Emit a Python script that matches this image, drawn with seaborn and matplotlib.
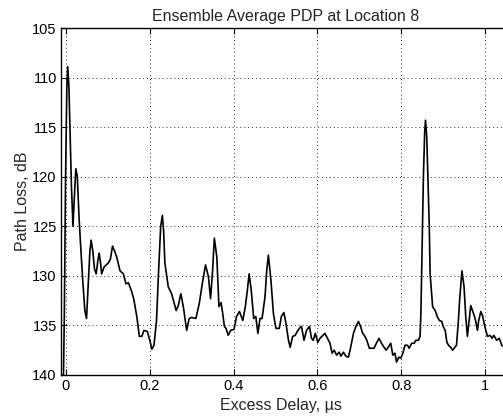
import matplotlib
matplotlib.use("Agg")
import matplotlib.pyplot as plt
import seaborn as sns
import pandas as pd
from matplotlib.ticker import FuncFormatter

delay_us = [-0.006, -0.004, -0.001, 0.002, 0.004, 0.007, 0.010, 0.013, 0.0167, 0.020,
            0.0235, 0.027, 0.031, 0.035, 0.040, 0.045, 0.049, 0.053, 0.057, 0.060,
            0.064, 0.068, 0.072, 0.076, 0.079, 0.082, 0.085, 0.091, 0.101, 0.106,
            0.111, 0.116, 0.121, 0.129, 0.137, 0.143, 0.149, 0.157, 0.162, 0.169,
            0.175, 0.181, 0.186, 0.194, 0.200, 0.205, 0.210, 0.216, 0.221, 0.226,
            0.230, 0.233, 0.236, 0.244, 0.252, 0.263, 0.268, 0.274, 0.280, 0.288,
            0.294, 0.300, 0.310, 0.318, 0.326, 0.333, 0.340, 0.345, 0.350, 0.354,
            0.360, 0.365, 0.370, 0.374, 0.378, 0.382, 0.387, 0.393, 0.401, 0.407,
            0.414, 0.422, 0.428, 0.433, 0.437, 0.442, 0.448, 0.453, 0.458, 0.463,
            0.468, 0.475, 0.479, 0.483, 0.489, 0.495, 0.501, 0.509, 0.514, 0.520,
            0.525, 0.531, 0.535, 0.541, 0.547, 0.552, 0.557, 0.562, 0.568, 0.574,
            0.581, 0.586, 0.590, 0.595, 0.601, 0.606, 0.613, 0.618, 0.624, 0.630,
            0.635, 0.640, 0.646, 0.652, 0.656, 0.662, 0.668, 0.674, 0.679, 0.686,
            0.692, 0.698, 0.703, 0.708, 0.712, 0.718, 0.724, 0.730, 0.735, 0.742,
            0.747, 0.753, 0.759, 0.764, 0.769, 0.775, 0.780, 0.785, 0.789, 0.794,
            0.799, 0.804, 0.809, 0.815, 0.819, 0.825, 0.831, 0.835, 0.841, 0.845,
            0.847, 0.850, 0.853, 0.856, 0.858, 0.861, 0.864, 0.867, 0.869, 0.875,
            0.881, 0.886, 0.891, 0.897, 0.900, 0.905, 0.909, 0.913, 0.918, 0.923,
            0.928, 0.932, 0.936, 0.940, 0.945, 0.950, 0.954, 0.958, 0.962, 0.966,
            0.971, 0.975, 0.978, 0.982, 0.985, 0.990, 0.994, 0.998, 1.002, 1.006,
            1.012, 1.017, 1.021, 1.028, 1.034, 1.040, 1.050]

path_loss_db = [140.0, 134.0, 120.0, 111.0, 108.9, 111.0, 116.0, 121.0, 125.0, 122.0,
                119.2, 120.0, 124.0, 127.0, 130.5, 133.5, 134.3, 131.0, 127.5, 126.4,
                127.5, 129.3, 129.8, 128.5, 127.7, 128.5, 129.8, 129.1, 128.7, 128.3,
                127.0, 127.5, 128.1, 129.5, 129.8, 130.8, 130.7, 131.6, 132.4, 134.1,
                136.1, 136.1, 135.5, 135.6, 136.5, 137.4, 137.0, 134.5, 129.5, 125.0,
                123.9, 125.5, 128.7, 131.1, 131.8, 133.5, 133.0, 131.8, 133.1, 135.5,
                134.3, 134.2, 134.3, 132.8, 130.6, 128.9, 130.1, 132.3, 129.4, 126.2,
                128.1, 133.1, 132.7, 133.8, 135.1, 135.3, 136.0, 135.5, 135.4, 134.1,
                133.6, 134.5, 133.1, 131.4, 129.8, 131.4, 134.3, 134.1, 135.8, 134.3,
                134.3, 132.1, 129.5, 127.9, 130.4, 133.8, 135.3, 135.3, 134.1, 133.7,
                134.8, 136.5, 137.2, 136.1, 136.0, 135.6, 135.3, 135.1, 136.5, 135.5,
                135.1, 136.3, 136.5, 135.8, 136.7, 136.3, 136.0, 135.8, 136.3, 136.8,
                137.8, 137.5, 138.0, 137.7, 138.1, 137.7, 138.1, 138.2, 137.3, 135.8,
                135.1, 134.6, 135.1, 135.8, 136.0, 136.5, 137.3, 137.3, 137.3, 136.7,
                136.3, 136.8, 137.2, 137.5, 137.2, 136.8, 138.0, 137.8, 138.7, 138.2,
                138.3, 137.8, 137.0, 137.0, 137.3, 136.8, 136.8, 136.5, 136.5, 136.1,
                133.8, 127.0, 120.0, 115.5, 114.3, 116.0, 120.5, 125.0, 129.8, 133.1,
                133.5, 134.1, 134.5, 134.6, 135.1, 135.5, 136.7, 137.0, 137.2, 137.5,
                137.2, 137.0, 134.8, 132.1, 129.5, 131.1, 134.1, 136.1, 134.5, 133.0,
                133.6, 134.1, 134.6, 135.5, 134.5, 133.6, 134.0, 134.8, 135.5, 136.1,
                136.0, 136.3, 136.0, 136.5, 136.3, 137.0, 137.3]

x_ticks = [0, 0.2, 0.4, 0.6, 0.8, 1.0]
y_ticks = [105, 110, 115, 120, 125, 130, 135, 140]

sns.set_style("ticks")
plt.rcParams["font.family"] = ["Liberation Sans", "DejaVu Sans"]

df = pd.DataFrame({"delay": delay_us, "loss": path_loss_db})

W, H = 503, 417
fig = plt.figure(figsize=(W / 100, H / 100), dpi=100)
left_px, right_px, top_px, bottom_px = 61, 510, 28, 375
ax = fig.add_axes([left_px / W, 1 - bottom_px / H,
                   (right_px - left_px) / W, (bottom_px - top_px) / H])

sns.lineplot(data=df, x="delay", y="loss", ax=ax, color="black",
             linewidth=1.2, estimator=None, sort=False)

# x: 0 at px 66, 419 px per unit
x0 = (left_px - 66) / 419
x1 = (right_px - 66) / 419
ax.set_xlim(x0, x1)
ax.set_ylim(140, 105)
ax.set_xticks(x_ticks)
ax.set_yticks(y_ticks)
ax.xaxis.set_major_formatter(FuncFormatter(lambda v, p: f"{v:g}"))
ax.tick_params(direction="in", top=True, right=True, length=4,
               labelsize=10.5, colors="black", width=0.8, pad=3)
ax.grid(True, linestyle=(0, (1, 3)), color="#333333", linewidth=0.7)
for s in ax.spines.values():
    s.set_color("black")
    s.set_linewidth(1.0)

ax.set_title("Ensemble Average PDP at Location 8", fontsize=11.5, pad=5)
ax.set_xlabel("Excess Delay, \u00b5s", fontsize=11.5, labelpad=0)
ax.set_ylabel("Path Loss, dB", fontsize=11.5, labelpad=2)
ax.xaxis.set_label_coords((281 - left_px) / (right_px - left_px), -0.065)

fig.savefig("out.png", dpi=100)
